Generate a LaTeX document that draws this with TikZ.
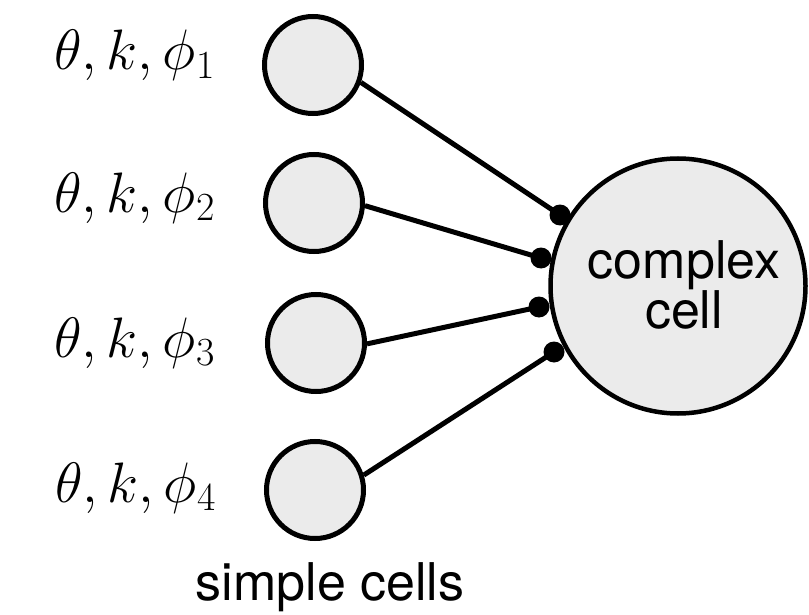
\RequirePackage{fix-cm}
\documentclass[tikz,border=0pt]{standalone}
\usepackage{fontspec}
\newfontfamily\hvfont{TeX Gyre Heros}
\definecolor{cellfill}{HTML}{EBEBEB}
\begin{document}
\begin{tikzpicture}[x=1pt,y=-1pt,
  simplecell/.style={circle,draw=black,fill=cellfill,line width=5pt,inner sep=0pt,minimum size=97pt},
  complexcell/.style={circle,draw=black,fill=cellfill,line width=4.5pt,inner sep=0pt,minimum size=255pt},
  synapse/.style={circle,fill=black,inner sep=0pt,minimum size=21pt},
  conn/.style={line width=5pt},
  param/.style={anchor=base east,inner sep=0pt,font=\fontsize{57}{60}\selectfont},
  sanslabel/.style={inner sep=0pt,font=\hvfont\fontsize{52}{50}\selectfont,align=center}]
\useasboundingbox (0,0) rectangle (809,615);
\node[simplecell] (s1) at (313,65) {};
\node[simplecell] (s2) at (314,203) {};
\node[simplecell] (s3) at (316,343) {};
\node[simplecell] (s4) at (315,490) {};
\node[complexcell] (c) at (678,286) {};
\node[sanslabel,anchor=base] (ct) at (684,328) {complex\\cell};
\coordinate (d1) at (560,215);
\coordinate (d2) at (541,258);
\coordinate (d3) at (539,307);
\coordinate (d4) at (554,352);
\draw[conn] (s1.-20) -- (d1);
\draw[conn] (s2.-3) -- (d2);
\draw[conn] (s3.-1) -- (d3);
\draw[conn] (s4.17) -- (d4);
\node[synapse] (p1) at (d1) {};
\node[synapse] (p2) at (d2) {};
\node[synapse] (p3) at (d3) {};
\node[synapse] (p4) at (d4) {};
\node[param] (l1) at (215,70) {$\theta, k, \phi_1$};
\node[param] (l2) at (215,212) {$\theta, k, \phi_2$};
\node[param] (l3) at (215,357) {$\theta, k, \phi_3$};
\node[param] (l4) at (216,502) {$\theta, k, \phi_4$};
\node[sanslabel,anchor=base] (sc) at (330,600) {simple cells};
\end{tikzpicture}
\end{document}
